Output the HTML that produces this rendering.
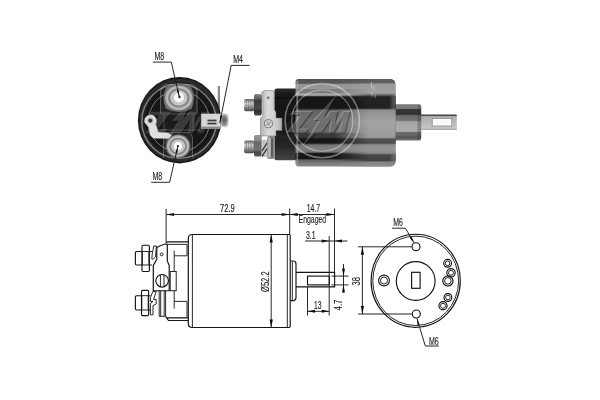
<!DOCTYPE html>
<html>
<head>
<meta charset="utf-8">
<title>Solenoid</title>
<style>
html,body{margin:0;padding:0;background:#fff;}
body{width:600px;height:400px;overflow:hidden;font-family:"Liberation Sans",sans-serif;}
svg{display:block;}
text{font-family:"Liberation Sans",sans-serif;fill:#1c1c1c;stroke:#1c1c1c;stroke-width:0.14;}
.ln{stroke:#141414;stroke-width:1.15;fill:none;}
.th{stroke:#1c1c1c;stroke-width:0.95;fill:none;}
.ar{fill:#111;stroke:none;}
</style>
</head>
<body>
<svg width="600" height="400" viewBox="0 0 600 400">
<defs>
    <g id="logoL">
    <path d="M292.5 111 h19.8 l-13.5 17.4 h9.6 l-2.8 4.2 h-19.4 l13.6 -17.6 h-10 z"/>
    <path d="M336.5 95 l-23.5 25 h6.2 l-17.2 26.5 l28.5 -30 h-6.4 z"/>
    <path d="M315.2 132.6 l14.6 -21.6 h7.4 l-2.2 12.6 l7.8 -12.6 h7 l-5.2 21.6 h-6 l3.2 -13.6 l-8.4 13.6 h-4.6 l2 -13.6 l-9.4 13.6 z"/>
  </g>
  <filter id="soft" x="-5%" y="-5%" width="110%" height="110%"><feGaussianBlur stdDeviation="0.35"/></filter>
  <filter id="b1" x="-10%" y="-10%" width="120%" height="120%"><feGaussianBlur stdDeviation="0.6"/></filter>
  <filter id="b2" x="-10%" y="-10%" width="120%" height="120%"><feGaussianBlur stdDeviation="1.2"/></filter>
  <filter id="b3" x="-20%" y="-20%" width="140%" height="140%"><feGaussianBlur stdDeviation="2.2"/></filter>
  <linearGradient id="cyl" x1="0" y1="0" x2="0" y2="1">
    <stop offset="0.0000" stop-color="#505050"/>
    <stop offset="0.0491" stop-color="#5a5a5a"/>
    <stop offset="0.0628" stop-color="#929292"/>
    <stop offset="0.1084" stop-color="#989898"/>
    <stop offset="0.1210" stop-color="#7a7a7a"/>
    <stop offset="0.1598" stop-color="#7c7c7c"/>
    <stop offset="0.1689" stop-color="#acacac"/>
    <stop offset="0.1861" stop-color="#a2a2a2"/>
    <stop offset="0.2032" stop-color="#181818"/>
    <stop offset="0.3345" stop-color="#121212"/>
    <stop offset="0.3573" stop-color="#626262"/>
    <stop offset="0.4795" stop-color="#6e6e6e"/>
    <stop offset="0.6073" stop-color="#686868"/>
    <stop offset="0.6233" stop-color="#3c3c3c"/>
    <stop offset="0.6678" stop-color="#363636"/>
    <stop offset="0.6826" stop-color="#141414"/>
    <stop offset="0.7306" stop-color="#161616"/>
    <stop offset="0.7534" stop-color="#747474"/>
    <stop offset="0.7934" stop-color="#7e7e7e"/>
    <stop offset="0.8333" stop-color="#727272"/>
    <stop offset="0.8516" stop-color="#161616"/>
    <stop offset="0.9064" stop-color="#141414"/>
    <stop offset="0.9269" stop-color="#626262"/>
    <stop offset="0.9703" stop-color="#808080"/>
    <stop offset="1.0000" stop-color="#8a8a8a"/>
  </linearGradient>
  <linearGradient id="cylR" x1="0" y1="0" x2="0" y2="1">
    <stop offset="0.0000" stop-color="#5a5a5a"/>
    <stop offset="0.0434" stop-color="#606060"/>
    <stop offset="0.0571" stop-color="#9a9a9a"/>
    <stop offset="0.1598" stop-color="#a0a0a0"/>
    <stop offset="0.1735" stop-color="#808080"/>
    <stop offset="0.2032" stop-color="#242424"/>
    <stop offset="0.3311" stop-color="#202020"/>
    <stop offset="0.3562" stop-color="#8e8e8e"/>
    <stop offset="0.4909" stop-color="#a4a4a4"/>
    <stop offset="0.6667" stop-color="#9a9a9a"/>
    <stop offset="0.6849" stop-color="#545454"/>
    <stop offset="0.7329" stop-color="#4e4e4e"/>
    <stop offset="0.7511" stop-color="#8e8e8e"/>
    <stop offset="0.8105" stop-color="#969696"/>
    <stop offset="0.8470" stop-color="#888888"/>
    <stop offset="0.8676" stop-color="#464646"/>
    <stop offset="0.9315" stop-color="#424242"/>
    <stop offset="0.9498" stop-color="#848484"/>
    <stop offset="1.0000" stop-color="#8e8e8e"/>
  </linearGradient>
  <linearGradient id="shld" x1="0" y1="0" x2="1" y2="0">
    <stop offset="0" stop-color="#868686" stop-opacity="0"/>
    <stop offset="0.6" stop-color="#868686" stop-opacity="0.75"/>
    <stop offset="1" stop-color="#7a7a7a" stop-opacity="0.85"/>
  </linearGradient>
  <linearGradient id="mkR" x1="0" y1="0" x2="1" y2="0">
    <stop offset="0" stop-color="#000"/>
    <stop offset="0.38" stop-color="#000"/>
    <stop offset="0.72" stop-color="#fff"/>
    <stop offset="1" stop-color="#fff"/>
  </linearGradient>
  <mask id="maskR" maskUnits="userSpaceOnUse" x="295" y="78" width="102" height="90">
    <rect x="295" y="78" width="102" height="90" fill="url(#mkR)"/>
  </mask>
  <linearGradient id="cylh" x1="0" y1="0" x2="1" y2="0">
    <stop offset="0" stop-color="#000" stop-opacity="0.15"/>
    <stop offset="0.06" stop-color="#000" stop-opacity="0"/>
    <stop offset="0.88" stop-color="#000" stop-opacity="0"/>
    <stop offset="0.95" stop-color="#fff" stop-opacity="0.12"/>
    <stop offset="1" stop-color="#000" stop-opacity="0.35"/>
  </linearGradient>
  <linearGradient id="nutd" x1="0" y1="0" x2="0" y2="1">
    <stop offset="0" stop-color="#8a8a8a"/>
    <stop offset="0.22" stop-color="#5c5c5c"/>
    <stop offset="0.3" stop-color="#3c3c3c"/>
    <stop offset="0.7" stop-color="#4a4a4a"/>
    <stop offset="0.78" stop-color="#2e2e2e"/>
    <stop offset="1" stop-color="#444"/>
  </linearGradient>
  <linearGradient id="nutl" x1="0" y1="0" x2="0" y2="1">
    <stop offset="0" stop-color="#999"/>
    <stop offset="0.25" stop-color="#8a8a8a"/>
    <stop offset="0.32" stop-color="#666"/>
    <stop offset="0.7" stop-color="#707070"/>
    <stop offset="0.78" stop-color="#4a4a4a"/>
    <stop offset="1" stop-color="#555"/>
  </linearGradient>
  <linearGradient id="brk" x1="0" y1="0" x2="1" y2="0">
    <stop offset="0" stop-color="#b0b0b0"/>
    <stop offset="0.35" stop-color="#dcdcdc"/>
    <stop offset="0.8" stop-color="#c6c6c6"/>
    <stop offset="1" stop-color="#a8a8a8"/>
  </linearGradient>
  <linearGradient id="boss" x1="0" y1="0" x2="0" y2="1">
    <stop offset="0.0000" stop-color="#787878"/>
    <stop offset="0.1108" stop-color="#808080"/>
    <stop offset="0.1468" stop-color="#363636"/>
    <stop offset="0.2770" stop-color="#323232"/>
    <stop offset="0.3130" stop-color="#6a6a6a"/>
    <stop offset="0.4432" stop-color="#747474"/>
    <stop offset="0.4903" stop-color="#a6a6a6"/>
    <stop offset="0.7479" stop-color="#acacac"/>
    <stop offset="0.7839" stop-color="#6c6c6c"/>
    <stop offset="0.8726" stop-color="#646464"/>
    <stop offset="0.9114" stop-color="#505050"/>
    <stop offset="1.0000" stop-color="#767676"/>
  </linearGradient>
  <linearGradient id="capg" x1="0" y1="0" x2="0" y2="1">
    <stop offset="0" stop-color="#2a2a2a"/>
    <stop offset="0.12" stop-color="#111"/>
    <stop offset="0.5" stop-color="#1a1a1a"/>
    <stop offset="0.8" stop-color="#262626"/>
    <stop offset="1" stop-color="#444"/>
  </linearGradient>
  <linearGradient id="tab" x1="0" y1="0" x2="0" y2="1">
    <stop offset="0.0000" stop-color="#3a3a3a"/>
    <stop offset="0.0710" stop-color="#505050"/>
    <stop offset="0.1355" stop-color="#b0b0b0"/>
    <stop offset="0.4839" stop-color="#b8b8b8"/>
    <stop offset="0.8710" stop-color="#c6c6c6"/>
    <stop offset="1.0000" stop-color="#a4a4a4"/>
  </linearGradient>
  <linearGradient id="stud" x1="0" y1="0" x2="0" y2="1">
    <stop offset="0" stop-color="#666"/>
    <stop offset="0.35" stop-color="#ddd"/>
    <stop offset="0.6" stop-color="#aaa"/>
    <stop offset="1" stop-color="#444"/>
  </linearGradient>
  <radialGradient id="face" cx="0.5" cy="0.5" r="0.5">
    <stop offset="0" stop-color="#1e1e1e"/>
    <stop offset="0.8" stop-color="#161616"/>
    <stop offset="0.93" stop-color="#2e2e2e"/>
    <stop offset="1" stop-color="#111"/>
  </radialGradient>
  <radialGradient id="nut" cx="0.5" cy="0.5" r="0.5">
    <stop offset="0" stop-color="#f8f8f8"/>
    <stop offset="0.33" stop-color="#f0f0f0"/>
    <stop offset="0.39" stop-color="#c2c2c2"/>
    <stop offset="0.56" stop-color="#cacaca"/>
    <stop offset="0.62" stop-color="#868686"/>
    <stop offset="0.73" stop-color="#8c8c8c"/>
    <stop offset="0.79" stop-color="#bcbcbc"/>
    <stop offset="0.92" stop-color="#b2b2b2"/>
    <stop offset="1" stop-color="#707070"/>
  </radialGradient>
</defs>

<rect width="600" height="400" fill="#fff"/>

<!-- ============ TOP LEFT PHOTO : front face ============ -->
<g id="photoA">
  <g filter="url(#b1)">
    <!-- pin behind -->
    <rect x="217.7" y="86" width="2.3" height="29" fill="#8a8a8a"/>
    <ellipse cx="179.5" cy="120.2" rx="41.6" ry="43.2" fill="url(#face)"/>
    <!-- housing outlines -->
    <path d="M160.6 114 V92 Q160.6 84.5 168 84.5 H190 Q197 84.5 197 92 V114" fill="#242424" stroke="#6e6e6e" stroke-width="0.8"/>
    <path d="M163.5 158 V139 Q163.5 132.5 170 132.5 H186 Q192.5 132.5 192.5 139 V158" fill="#282828" stroke="#666" stroke-width="0.8"/>
    <path d="M160.6 114 H197 M156 130 H200 M164 114 V131 M193 114 V131" stroke="#5a5a5a" stroke-width="0.8" fill="none"/>
  </g>
  <!-- watermark -->
  <g filter="url(#b1)" opacity="0.42" fill="none" stroke="#fff">
    <circle cx="179" cy="121.2" r="37.2" stroke-width="1.4"/>
    <circle cx="179" cy="121.2" r="30.6" stroke-width="1"/>
  </g>
  <g filter="url(#b1)" transform="translate(-140.8 0.7)">
    <use href="#logoL" transform="translate(1.1 1)" fill="#000" opacity="0.28"/>
    <use href="#logoL" fill="#fff" opacity="0.16"/>
  </g>
  <g filter="url(#b1)">
    <!-- top terminal -->
    <g transform="translate(178.8 98) scale(1.1 1.12) translate(-178.8 -97.9)"><path d="M167.5 88 Q178.7 82.5 190 88 Q195 97.5 190.5 107.5 Q178.7 113.5 167 107.5 Q162.5 97.5 167.5 88 Z" fill="#6a6a6a"/>
    <path d="M168 88.8 Q178.7 84 189.5 88.8 Q193.8 97.5 189.8 106.5 Q178.7 112 167.8 106.5 Q163.8 97.5 168 88.8 Z" fill="url(#nut)"/></g>
        <circle cx="179.3" cy="96.8" r="4.6" fill="#f6f6f6"/>
    <circle cx="179.5" cy="97" r="1.2" fill="#333"/>
    <!-- bottom terminal -->
    <ellipse cx="178.1" cy="146.2" rx="12.4" ry="12" fill="#6a6a6a"/>
    <ellipse cx="178.1" cy="146.2" rx="11.6" ry="11.2" fill="url(#nut)"/>
        <circle cx="178" cy="146" r="3.9" fill="#fcfcfc"/>
    <circle cx="177.9" cy="146.1" r="1.1" fill="#333"/>
    <!-- left bracket -->
    <path d="M144.6 122.5 a6.1 6.1 0 1 1 11.2 1.4 L158.2 132 L168 132.7 L171.8 135 L168.8 138.8 L153 138.3 L150 135 L148.3 127 Z" fill="#e0e0e0" stroke="#8a8a8a" stroke-width="0.5"/>
    <circle cx="150.3" cy="120.6" r="3" fill="#b0b0b0"/>
    <circle cx="150.3" cy="120.6" r="1.9" fill="#333"/>
    <!-- right M4 terminal -->
    <rect x="201.2" y="113.7" width="19.4" height="15.3" fill="#d6d6d6"/>
    <rect x="207.5" y="119.6" width="9" height="1.7" fill="#3a3a3a"/>
    <rect x="207.5" y="122.7" width="9" height="1.7" fill="#3a3a3a"/>
    <rect x="201.2" y="126.6" width="19.4" height="2.4" fill="#8a8a8a"/>
  </g>
  <g filter="url(#b2)">
    <rect x="221" y="114.6" width="6.6" height="11.6" rx="2" fill="#7c7c7c"/>
    <rect x="221" y="119.4" width="6.6" height="1.6" fill="#444"/>
  </g>
</g>

<!-- ============ TOP RIGHT PHOTO : side view ============ -->
<g id="photoB">
  <g filter="url(#b1)">
    <!-- plunger tab -->
    <rect x="419" y="114.5" width="37.8" height="15.5" rx="0.8" fill="url(#tab)"/>
    <rect x="432.2" y="118.6" width="19.6" height="7.4" fill="#fafafa" stroke="#777" stroke-width="0.6"/>
    <!-- boss -->
    <rect x="393" y="104.3" width="28.2" height="36.1" rx="3" fill="url(#boss)"/>
    <rect x="417.5" y="104.3" width="3.7" height="36.1" rx="2" fill="#333" opacity="0.3"/>
    <!-- cap -->
    <rect x="274.4" y="88.5" width="24" height="71.8" rx="2.5" fill="url(#capg)"/>
    <!-- main cylinder -->
    <path d="M298.5 79 H389.5 Q395.5 79 395.5 85 V160.6 Q395.5 166.6 389.5 166.6 H298.5 Q295.5 166.6 295.5 163.6 V82 Q295.5 79 298.5 79 Z" fill="url(#cyl)"/>
    <path d="M298.5 79 H389.5 Q395.5 79 395.5 85 V160.6 Q395.5 166.6 389.5 166.6 H298.5 Q295.5 166.6 295.5 163.6 V82 Q295.5 79 298.5 79 Z" fill="url(#cylR)" mask="url(#maskR)"/>
    <rect x="296.4" y="80.5" width="1.8" height="85" fill="#b0b0b0" opacity="0.55"/>
    <rect x="389.5" y="95" width="6" height="15" fill="url(#shld)" opacity="0.6"/>
    <rect x="389.5" y="153" width="6" height="10" fill="url(#shld)" opacity="0.6"/>
  </g>
  <g filter="url(#b2)">
    <!-- upper left bright streak -->
  </g>
  <g filter="url(#b1)">
    <!-- engraving -->
    <path d="M371.5 82 v7 M374 85 v5 M372 92 v5 M375 94 v4" stroke="#ddd" stroke-width="1" opacity="0.5" fill="none"/>
    <!-- top stud -->
    <rect x="244" y="98.9" width="10.5" height="12.4" rx="2" fill="url(#stud)"/>
    <path d="M246.4 99.3 v11.6 M248.7 99.3 v11.6 M251 99.3 v11.6 M253.2 99.3 v11.6" stroke="#555" stroke-width="0.8" opacity="0.6"/>
    <path d="M255 93.9 h5.6 l1.2 1.5 v18.5 l-1.2 1.5 h-5.6 l-1 -1.5 v-18.5 z" fill="url(#nutd)"/>
    <!-- bottom stud -->
    <rect x="244" y="140.5" width="10.5" height="12.7" rx="2" fill="url(#stud)"/>
    <path d="M246.4 141 v11.8 M248.7 141 v11.8 M251 141 v11.8 M253.2 141 v11.8" stroke="#555" stroke-width="0.8" opacity="0.6"/>
    <path d="M255 135 h5.6 l1.2 1.5 v18.5 l-1.2 1.5 h-5.6 l-1 -1.5 v-18.5 z" fill="url(#nutl)"/>
    <!-- spring washer + insulator -->
    <rect x="261.6" y="139.5" width="6" height="17.5" rx="2" fill="#c4c4c4"/>
    <path d="M262 151 l5 -8 M262 156.5 l5 -8" stroke="#333" stroke-width="1.4"/>
    <rect x="267.2" y="136" width="7.8" height="23" rx="2.6" fill="#8a8a8a"/>
    <rect x="268.2" y="137.5" width="2.4" height="20" rx="1" fill="#c0c0c0" opacity="0.9"/><rect x="271.2" y="138" width="1.6" height="19" rx="0.8" fill="#444" opacity="0.8"/>
    <!-- bracket -->
    <path d="M264 90.6 h9.2 l1 1 v18 l1.8 2.4 v6 h6 v12.5 h-6 v5.5 h-15.5 v-18 l2.2 -1.5 v-16 l-0.8 -2 v-6.5 z" fill="url(#brk)" stroke="#6a6a6a" stroke-width="0.5"/>
    <rect x="267.2" y="96.6" width="2.2" height="2.3" fill="#555" opacity="0.8"/>
    <circle cx="268.4" cy="123.7" r="4.1" fill="#d4d4d4" stroke="#666" stroke-width="0.8"/>
    <path d="M265.6 125.6 l5.6 -3.8 M266.6 121.2 l3.6 5" stroke="#777" stroke-width="0.8"/>
  </g>
  <!-- watermark -->
  <g filter="url(#b1)" opacity="0.4" fill="none" stroke="#fff">
    <circle cx="322.3" cy="120.6" r="37.2" stroke-width="1.5"/>
    <circle cx="322.3" cy="120.6" r="30.6" stroke-width="1.1"/>
  </g>
  <g filter="url(#b1)">
    <use href="#logoL" transform="translate(1.1 1)" fill="#000" opacity="0.34"/>
    <use href="#logoL" fill="#fff" opacity="0.22"/>
  </g>
</g>

<!-- labels top -->
<g id="lblTop" filter="url(#soft)">
  <text x="154.4" y="59.8" font-size="10.3" textLength="9.8" lengthAdjust="spacingAndGlyphs">M8</text>
  <path class="th" d="M152.9 62.1 H171.3 L179.3 97" stroke-width="1.05"/>
  <text x="233.2" y="62.6" font-size="10.3" textLength="9.8" lengthAdjust="spacingAndGlyphs">M4</text>
  <path class="th" d="M249.6 65.4 H231.2 L219.8 123" stroke-width="1.05"/>
  <text x="152.4" y="179.8" font-size="10.3" textLength="9.8" lengthAdjust="spacingAndGlyphs">M8</text>
  <path class="th" d="M151.2 182.3 H169.6 L177.9 146.1" stroke-width="1.05"/>
  <path class="ar" d="M179.3 97 L178.62 89.98 L176.86 90.38 Z M219.8 123 L222.04 116.31 L220.28 115.96 Z M177.9 146.1 L177.21 153.12 L175.46 152.72 Z"/>
</g>

<!-- ============ BOTTOM LEFT DRAWING ============ -->
<g id="drawA" filter="url(#soft)">
  <!-- body -->
  <path class="ln" d="M192.4 234.5 H289.4 L290.2 235.5 V326.5 L289.4 327.5 H192.4 Q188.3 327.5 188.3 323.5 V238.5 Q188.3 234.5 192.4 234.5 Z"/>
  <path class="th" d="M287.3 235 V327 M192.4 235 V327"/>
  <!-- cap -->
  <path class="ln" d="M188.3 241.8 H167.6 Q166.2 241.8 166.1 243.2 M165.6 316.3 L168.5 320.5 H188.3 M166 317.8 H188.3"/>
  <path class="th" d="M167.3 244.4 H187 V255.8 H174.2 V250.8 M174.2 255.8 V271.5"/>
  <path class="th" d="M174.2 290.7 V308.5 M174.2 301.4 H187 V317"/>
  <rect class="th" x="170.2" y="271.5" width="6" height="19.2"/>
  <g class="ln" fill="#fff">
    <!-- top stud + nut -->
    <path d="M142 251.5 H136.6 Q135.4 251.5 135.4 252.7 V263.8 Q135.4 265 136.6 265 H142"/>
    <path d="M143 245.2 H148.4 Q149.4 245.2 149.4 246.4 V270.3 Q149.4 271.5 148.4 271.5 H143 Q142 271.5 142 270.3 V246.4 Q142 245.2 143 245.2 Z"/>
    <path class="th" d="M141.4 251.5 H152 M141.4 265 H152 M142.3 251.5 V265 M148.9 251.5 V265"/>
    <!-- bottom stud + nut -->
    <path d="M141.5 295.7 H136.6 Q135.4 295.7 135.4 296.9 V308.8 Q135.4 310 136.6 310 H141.5"/>
    <path d="M142.5 290.4 H147.6 Q148.6 290.4 148.6 291.6 V314.4 Q148.6 315.6 147.6 315.6 H142.5 Q141.5 315.6 141.5 314.4 V291.6 Q141.5 290.4 142.5 290.4 Z"/>
    <path class="th" d="M140.9 295.7 H150.5 M140.9 310 H150.5 M141.8 295.7 V310 M148.2 295.7 V310"/>
    <!-- lock washers -->
    <path class="th" d="M153.9 246 H156.4 L155.5 257 L153.2 259 H151.8 L152.3 253.2 Z"/>
    <path class="th" d="M152.8 291.6 H156.2 L153.6 299.5 H156.2 V304 L153 305.6 V314.8 H150.4 V303.6 L153 301.4 H150.4 V297.6 Z"/>
    <!-- bracket plate -->
    <path d="M156.8 247.6 L159.5 246 L165.2 244 L167.3 244.2 V261 L169.2 265.4 V290.7 H153.3 V265.4 L156.8 259.4 Z"/>
    <circle class="th" cx="161.6" cy="254.4" r="1.4"/>
    <circle cx="162.1" cy="280.8" r="6.3"/>
    <path class="th" d="M160.4 274.9 V286.7 M164 274.9 V286.7"/>
    <!-- lower link -->
    <path class="th" d="M159.2 290.7 V316.3 M160.7 290.7 V316.3 M164.2 290.7 V316.3 M165.6 290.7 V316.3 M159.2 316.3 H165.6"/>
  </g>
  <!-- flange + shaft -->
  <path class="ln" d="M290.4 261 H293.5 Q296 261 296 264 V297.6 Q296 300.6 293.5 300.6 H290.4"/>
  <path class="th" d="M292.3 261.5 V300.2" stroke-width="0.7"/>
  <path class="ln" d="M296 272.3 H334.6 V286.8 H296"/>
  <rect class="ln" x="307.5" y="276.1" width="21.8" height="8.8"/>
</g>

<!-- ============ DIMENSIONS (left drawing) ============ -->
<g id="dimA" filter="url(#soft)">
  <!-- extension lines -->
  <path class="th" d="M166.1 208.8 V242.5 M289.7 208.5 V234.5 M334.5 208.5 V273"/>
  <!-- 72.9 / 14.7 line -->
  <path class="th" d="M166.1 214.5 H334.5"/>
  <path class="ar" d="M166.1 214.5 l8 -1.6 v3.2 z M289.7 214.5 l-8 -1.6 v3.2 z M289.7 214.5 l8 -1.6 v3.2 z M334.5 214.5 l-8 -1.6 v3.2 z"/>
  <text x="220" y="212.2" font-size="10.4" textLength="14.8" lengthAdjust="spacingAndGlyphs">72.9</text>
  <text x="306.8" y="212.2" font-size="10.4" textLength="13.4" lengthAdjust="spacingAndGlyphs">14.7</text>
  <text x="298.6" y="222.6" font-size="10" textLength="27.6" lengthAdjust="spacingAndGlyphs">Engaged</text>
  <!-- 3.1 -->
  <text x="306" y="239.3" font-size="10.5" textLength="9.6" lengthAdjust="spacingAndGlyphs">3.1</text>
  <path class="th" d="M305 241 H347.5 M329.2 236 V287"/>
  <path class="ar" d="M329.2 241 l-7.5 -1.5 v3 z M334.5 241 l7.5 -1.5 v3 z"/>
  <!-- dia 52.2 -->
  <path class="th" d="M271.2 234.5 V327.5"/>
  <path class="ar" d="M271.2 234.5 l-1.6 8 h3.2 z M271.2 327.5 l-1.6 -8 h3.2 z"/>
  <text transform="translate(268.8 292) rotate(-90)" font-size="10.4" textLength="20.6" lengthAdjust="spacingAndGlyphs">Ø52.2</text>
  <!-- 13 -->
  <path class="th" d="M307.5 287 V315.5 M329.2 287 V315.5 M307.5 311.3 H329.2"/>
  <path class="ar" d="M307.5 311.3 l7.5 -1.5 v3 z M329.2 311.3 l-7.5 -1.5 v3 z"/>
  <text x="314" y="309" font-size="10.4" textLength="7.6" lengthAdjust="spacingAndGlyphs">13</text>
  <!-- 4.7 -->
  <path class="th" d="M331.5 276.1 H348.5 M331.5 284.9 H348.5 M343.5 264 V292.5"/>
  <path class="ar" d="M343.5 276.1 l-1.5 -7.5 h3 z M343.5 284.9 l-1.5 7.5 h3 z"/>
  <text transform="translate(342.2 310.5) rotate(-90)" font-size="10.4" textLength="11" lengthAdjust="spacingAndGlyphs">4.7</text>
</g>

<!-- ============ DIMENSIONS (right drawing) ============ -->
<g id="dimB" filter="url(#soft)">
  <path class="th" d="M358 246.8 H411.6 M358 314 H411.8 M362.4 246.8 V314"/>
  <path class="ar" d="M362.4 246.8 l-1.6 8 h3.2 z M362.4 314 l-1.6 -8 h3.2 z"/>
  <text transform="translate(360.2 285.5) rotate(-90)" font-size="10.4" textLength="8.4" lengthAdjust="spacingAndGlyphs">38</text>
  <text x="393.3" y="225.8" font-size="10.3" textLength="9.6" lengthAdjust="spacingAndGlyphs">M6</text>
  <path class="th" d="M392 228.2 H405.4 L414 242.6"/>
  <path class="ar" d="M414.3 243.2 L409.6 237.7 L411.5 236.5 Z"/>
  <text x="429" y="344.6" font-size="10.3" textLength="9.8" lengthAdjust="spacingAndGlyphs">M6</text>
  <path class="th" d="M438.8 346 H425.3 L417 318.5"/>
  <path class="ar" d="M416.9 318 L417.6 325.6 L419.7 325 Z"/>
</g>

<!-- ============ BOTTOM RIGHT DRAWING ============ -->
<g id="drawB" filter="url(#soft)">
  <ellipse class="ln" cx="415.7" cy="280.8" rx="44.6" ry="46.5"/>
  <ellipse class="th" cx="415.7" cy="280.8" rx="42.9" ry="44.7"/>
  <circle class="ln" cx="415.7" cy="281" r="19.4"/>
  <rect class="ln" x="411.6" y="272.3" width="8.5" height="16"/>
  <circle class="ln" cx="416" cy="246.7" r="4" stroke-width="1.3"/>
  <circle class="ln" cx="416.3" cy="314" r="4" stroke-width="1.3"/>
  <circle class="ln" cx="384" cy="280.5" r="5.4"/>
  <circle class="th" cx="384" cy="280.5" r="3.5"/>
  <circle class="ln" cx="447.6" cy="263.3" r="3.9"/><circle class="th" cx="447.6" cy="263.3" r="2.3"/>
  <circle class="ln" cx="451" cy="272.8" r="4.2"/><circle class="th" cx="451" cy="272.8" r="2.5"/>
  <circle class="ln" cx="447.9" cy="280.9" r="5.1"/><circle class="th" cx="447.9" cy="280.9" r="3.3"/>
  <circle class="ln" cx="447.9" cy="297.5" r="3.9"/><circle class="th" cx="447.9" cy="297.5" r="2.3"/>
  <circle class="ln" cx="443" cy="305.8" r="4.1"/><circle class="th" cx="443" cy="305.8" r="2.5"/>
</g>

</svg>
</body>
</html>
